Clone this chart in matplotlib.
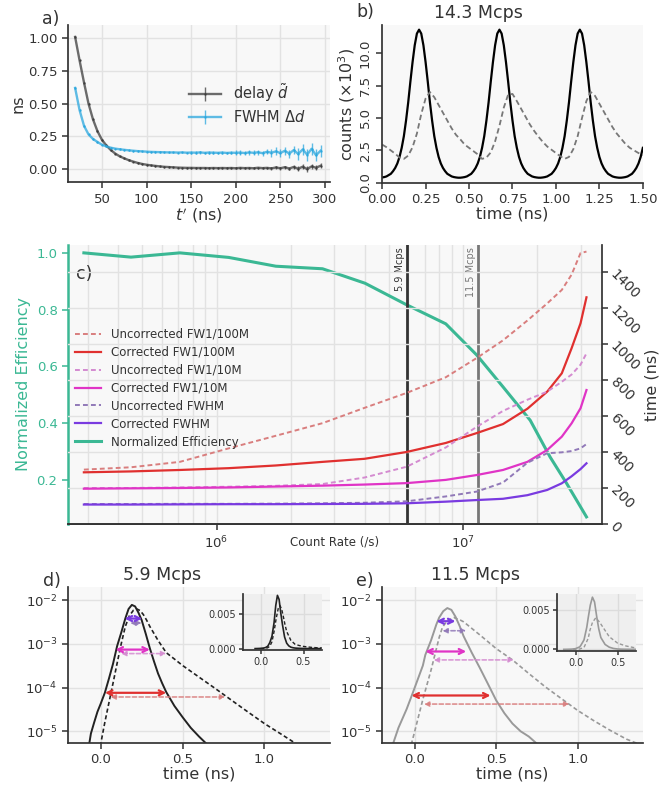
import numpy as np
import matplotlib
matplotlib.use("Agg")
import matplotlib.pyplot as plt
from matplotlib.ticker import NullLocator, FormatStrFormatter

# ---------------- data ----------------
# a) delay and FWHM vs t'
t_prime = list(range(20, 300, 5))
delay = [1.01, 0.83, 0.66, 0.50, 0.38, 0.29, 0.224, 0.18, 0.145, 0.118,
         0.097, 0.082, 0.068, 0.057, 0.047, 0.039, 0.033, 0.028, 0.024, 0.020,
         0.017, 0.015, 0.013, 0.011, 0.010, 0.009, 0.009, 0.008, 0.008, 0.008,
         0.007, 0.008, 0.007, 0.008, 0.007, 0.008, 0.006, 0.009, 0.007, 0.008,
         0.006, 0.010, 0.007, 0.009, 0.005, 0.012, 0.006, 0.014, 0.004, 0.016,
         0.002, 0.018, 0.000, 0.020, 0.010, 0.025]
delay_err = [0.006] * 36 + [0.008] * 8 + [0.012] * 6 + [0.02] * 6
fwhm = [0.62, 0.45, 0.33, 0.265, 0.23, 0.207, 0.186, 0.173, 0.163, 0.156,
        0.151, 0.147, 0.143, 0.140, 0.137, 0.135, 0.133, 0.131, 0.130, 0.129,
        0.128, 0.127, 0.127, 0.126, 0.127, 0.125, 0.126, 0.125, 0.127, 0.124,
        0.126, 0.125, 0.124, 0.126, 0.123, 0.125, 0.124, 0.126, 0.122, 0.127,
        0.124, 0.128, 0.121, 0.132, 0.125, 0.135, 0.122, 0.140, 0.118, 0.145,
        0.115, 0.150, 0.110, 0.155, 0.105, 0.140]
fwhm_err = [0.006] * 26 + [0.01] * 10 + [0.018] * 8 + [0.03] * 6 + [0.045] * 6

# b) histogram at 14.3 Mcps (corrected on a 12.5 ps grid, raw on 25 ps)
time_fine = np.round(np.arange(0, 1.5001, 0.0125), 4)
counts_corr = [0.42, 0.45, 0.5, 0.6, 0.7, 0.9, 1.15, 1.5, 2.0, 2.7,
               3.6, 4.8, 6.2, 7.8, 9.3, 10.6, 11.5, 11.8, 11.5, 10.6,
               9.3, 7.8, 6.2, 4.8, 3.6, 2.7, 2.0, 1.5, 1.15, 0.9,
               0.7, 0.6, 0.5, 0.45, 0.42, 0.4, 0.4, 0.42, 0.45, 0.5,
               0.6, 0.7, 0.9, 1.15, 1.5, 2.0, 2.7, 3.6, 4.8, 6.2,
               7.8, 9.3, 10.6, 11.5, 11.8, 11.5, 10.6, 9.3, 7.8, 6.2,
               4.8, 3.6, 2.7, 2.0, 1.5, 1.15, 0.9, 0.7, 0.6, 0.5,
               0.45, 0.42, 0.4, 0.4, 0.42, 0.45, 0.5, 0.6, 0.7, 0.9,
               1.15, 1.5, 2.0, 2.7, 3.6, 4.8, 6.2, 7.8, 9.3, 10.6,
               11.5, 11.8, 11.5, 10.6, 9.3, 7.8, 6.2, 4.8, 3.6, 2.7,
               2.0, 1.5, 1.15, 0.9, 0.7, 0.6, 0.5, 0.45, 0.42, 0.4,
               0.4, 0.42, 0.45, 0.5, 0.6, 0.7, 0.9, 1.15, 1.5, 2.0, 2.7]
time_coarse = np.round(np.arange(0, 1.5001, 0.025), 3)
counts_raw = [2.95, 2.75, 2.5, 2.25, 1.95, 1.85, 2.1, 2.75, 3.8, 5.3,
              6.5, 7.0, 6.6, 6.0, 5.4, 4.8, 4.2, 3.7, 3.35, 2.95,
              2.7, 2.45, 2.2, 1.85, 1.95, 2.35, 3.2, 4.4, 5.8, 6.8,
              6.85, 6.3, 5.7, 5.1, 4.5, 4.0, 3.55, 3.15, 2.8, 2.55,
              2.3, 2.05, 1.85, 2.0, 2.6, 3.6, 5.0, 6.3, 7.0, 6.7,
              6.1, 5.5, 4.9, 4.3, 3.8, 3.4, 3.0, 2.7, 2.5, 2.3, 2.15]

# c) widths and efficiency vs count rate
rate = [2.9e5, 4.5e5, 7.1e5, 1.12e6, 1.74e6, 2.69e6, 3.98e6, 5.9e6, 8.5e6,
        1.135e7, 1.45e7, 1.82e7, 2.19e7, 2.51e7, 2.75e7, 2.99e7, 3.16e7]
unc_100m = [302, 315, 345, 420, 490, 560, 645, 728, 815, 922, 1020, 1130,
            1225, 1300, 1385, 1505, 1513]
cor_100m = [287, 292, 300, 310, 325, 345, 362, 400, 450, 505, 555, 640,
            735, 837, 976, 1115, 1259]
unc_10m = [200, 200, 203, 207, 212, 222, 258, 318, 425, 540, 628, 690,
           735, 790, 830, 885, 948]
cor_10m = [196, 198, 200, 203, 208, 213, 219, 227, 245, 272, 300, 345,
           411, 485, 559, 643, 744]
unc_fwhm = [111, 111, 112, 112, 113, 115, 118, 126, 153, 180, 230, 340,
            393, 398, 405, 420, 444]
cor_fwhm = [108, 108, 109, 110, 110, 111, 112, 115, 124, 133, 140, 160,
            189, 226, 265, 305, 337]
rate_eff = [2.9e5, 4.5e5, 7.1e5, 1.12e6, 1.74e6, 2.69e6, 4.0e6, 5.9e6, 8.5e6,
            1.135e7, 1.45e7, 1.87e7, 2.25e7, 2.63e7, 3.16e7]
efficiency = [1.0, 0.985, 1.0, 0.984, 0.953, 0.944, 0.893, 0.817, 0.75,
              0.64, 0.528, 0.41, 0.281, 0.187, 0.07]
marked_rates = [5.9e6, 1.15e7]
marked_labels = ["5.9 Mcps", "11.5 Mcps"]

# d) 5.9 Mcps histograms
td_cor = [-0.075, -0.06, -0.04, -0.02, 0.0, 0.025, 0.05, 0.075, 0.1, 0.125,
          0.15, 0.17, 0.19, 0.21, 0.23, 0.25, 0.275, 0.3, 0.325, 0.35,
          0.375, 0.4, 0.45, 0.5, 0.55, 0.6, 0.65, 0.7]
pd_cor = [4.0e-6, 8.9e-6, 1.6e-5, 2.8e-5, 4.3e-5, 7.6e-5, 1.6e-4, 3.5e-4,
          8.9e-4, 1.8e-3, 3.8e-3, 6.3e-3, 7.8e-3, 7.2e-3, 5.2e-3, 3.5e-3,
          1.7e-3, 7.9e-4, 4.0e-4, 2.1e-4, 1.26e-4, 7.9e-5, 3.8e-5, 2.1e-5,
          1.2e-5, 7.6e-6, 5.0e-6, 3.2e-6]
td_raw = [-0.01, 0.0, 0.025, 0.05, 0.075, 0.1, 0.125, 0.15, 0.175, 0.2,
          0.22, 0.24, 0.26, 0.28, 0.3, 0.35, 0.4, 0.45, 0.5, 0.6,
          0.7, 0.8, 0.9, 1.0, 1.1, 1.2, 1.25]
pd_raw = [3.2e-6, 5.2e-6, 1.6e-5, 4.5e-5, 1.26e-4, 3.6e-4, 1.0e-3, 2.5e-3,
          4.4e-3, 5.9e-3, 6.3e-3, 5.8e-3, 4.7e-3, 3.5e-3, 2.5e-3, 1.2e-3,
          6.3e-4, 4.5e-4, 3.2e-4, 1.74e-4, 9.5e-5, 5.1e-5, 2.75e-5, 1.5e-5,
          8.7e-6, 5.0e-6, 3.8e-6]

# e) 11.5 Mcps histograms
te_cor = [-0.14, -0.133, -0.1, -0.05, -0.02, 0.0, 0.05, 0.065, 0.1, 0.133,
          0.15, 0.175, 0.2, 0.225, 0.25, 0.275, 0.3, 0.35, 0.4, 0.45,
          0.5, 0.55, 0.6, 0.65, 0.7, 0.75, 0.8]
pe_cor = [4.0e-6, 5.2e-6, 1.2e-5, 3.2e-5, 6.3e-5, 1.0e-4, 3.2e-4, 5.6e-4,
          1.2e-3, 2.8e-3, 4.0e-3, 5.6e-3, 6.6e-3, 6.0e-3, 4.2e-3, 2.6e-3,
          1.5e-3, 6.3e-4, 2.8e-4, 1.2e-4, 5.1e-5, 2.6e-5, 1.5e-5, 1.0e-5,
          7.6e-6, 5.2e-6, 3.8e-6]
te_raw = [-0.03, -0.02, 0.0, 0.05, 0.1, 0.15, 0.17, 0.2, 0.24, 0.28,
          0.3, 0.4, 0.5, 0.6, 0.7, 0.8, 0.9, 1.0, 1.1, 1.2, 1.3, 1.4]
pe_raw = [3.5e-6, 5.2e-6, 1.0e-5, 5.4e-5, 2.5e-4, 1.4e-3, 2.4e-3, 3.4e-3,
          4.0e-3, 3.5e-3, 3.2e-3, 1.6e-3, 7.8e-4, 4.3e-4, 2.1e-4, 1.05e-4,
          5.6e-5, 3.0e-5, 1.74e-5, 1.05e-5, 6.6e-6, 4.7e-6]

# width arrows: (level, left, right) for FWHM, FW1/10M, FW1/100M
arrows_d_cor = [(3.8e-3, 0.146, 0.253), (7.4e-4, 0.09, 0.30), (7.6e-5, 0.026, 0.40)]
arrows_d_raw = [(3.0e-3, 0.18, 0.25), (6.0e-4, 0.125, 0.40), (6.1e-5, 0.06, 0.76)]
arrows_e_cor = [(3.3e-3, 0.133, 0.25), (6.7e-4, 0.065, 0.316), (6.6e-5, -0.02, 0.465)]
arrows_e_raw = [(2.0e-3, 0.17, 0.316), (4.3e-4, 0.116, 0.608), (4.2e-5, 0.057, 0.949)]

# ---------------- style ----------------
DARK = "#333333"
GREEN = "#3bb894"
COR = ["#7a3be0", "#e034c6", "#e0302f"]
UNC = ["#9179b8", "#d48bd0", "#d97e7e"]

plt.rcParams.update({
    "font.family": "DejaVu Sans",
    "axes.facecolor": "#f8f8f8",
    "axes.edgecolor": DARK,
    "axes.linewidth": 1.25,
    "axes.spines.top": False,
    "axes.spines.right": False,
    "axes.axisbelow": True,
    "grid.color": "#e2e2e2",
    "grid.linewidth": 1.0,
    "text.color": DARK,
    "axes.labelcolor": DARK,
    "xtick.color": DARK,
    "ytick.color": DARK,
    "xtick.labelsize": 9.5,
    "ytick.labelsize": 9.5,
    "xtick.major.size": 4,
    "ytick.major.size": 4,
    "xtick.major.width": 1.1,
    "ytick.major.width": 1.1,
    "axes.labelsize": 11.5,
})

fig = plt.figure(figsize=(6.6, 7.85), dpi=100)

ax_a = fig.add_axes([0.103, 0.768, 0.397, 0.200])
ax_b = fig.add_axes([0.579, 0.767, 0.395, 0.201])
ax_c = fig.add_axes([0.103, 0.3325, 0.809, 0.3555])
ax_d = fig.add_axes([0.103, 0.0535, 0.397, 0.1987])
ax_e = fig.add_axes([0.579, 0.0535, 0.395, 0.1987])

# ---------------- a) ----------------
ax_a.errorbar(t_prime, delay, yerr=delay_err, color="#3c3c3c", lw=1.7,
              marker=".", ms=1.5, elinewidth=1, alpha=0.75, label=r"delay $\tilde{d}$")
ax_a.errorbar(t_prime, fwhm, yerr=fwhm_err, color="#2aa7de", lw=1.7,
              marker=".", ms=1.5, elinewidth=1, alpha=0.75, label=r"FWHM $\Delta d$")
ax_a.set_xlim(12, 305.6)
ax_a.set_ylim(-0.1, 1.1)
ax_a.set_xticks([50, 100, 150, 200, 250, 300])
ax_a.set_yticks([0, 0.25, 0.5, 0.75, 1.0])
ax_a.yaxis.set_major_formatter(FormatStrFormatter("%.2f"))
ax_a.grid(True)
ax_a.set_xlabel(r"$t'$ (ns)", labelpad=0)
ax_a.set_ylabel("ns", labelpad=2)
ax_a.legend(loc="upper left", bbox_to_anchor=(0.44, 0.68), frameon=False,
            fontsize=10.5, handlelength=2.2, labelspacing=0.35, borderaxespad=0)
fig.text(51 / 660, 1 - 19 / 785, "a)", fontsize=12.5, ha="center", va="center")

# ---------------- b) ----------------
ax_b.plot(time_fine, counts_corr, color="black", lw=1.6)
ax_b.plot(time_coarse, counts_raw, color="#777777", lw=1.3, ls=(0, (3, 1.8)))
ax_b.set_xlim(0, 1.5)
ax_b.set_ylim(0, 12.15)
ax_b.set_xticks([0, 0.25, 0.5, 0.75, 1.0, 1.25, 1.5])
ax_b.xaxis.set_major_formatter(FormatStrFormatter("%.2f"))
ax_b.set_yticks([0, 2.5, 5.0, 7.5, 10.0])
ax_b.yaxis.set_major_formatter(FormatStrFormatter("%.1f"))
for lab in ax_b.get_yticklabels():
    lab.set_rotation(90)
    lab.set_va("center")
ax_b.set_xlabel("time (ns)", labelpad=0)
ax_b.set_ylabel(r"counts ($\times 10^3$)", labelpad=1)
ax_b.text(0.368, 1.02, "14.3 Mcps", transform=ax_b.transAxes, ha="center",
          va="bottom", fontsize=12.5)
fig.text(365 / 660, 1 - 12 / 785, "b)", fontsize=12.5, ha="center", va="center")

# ---------------- c) ----------------
ax_t = ax_c.twinx()
ax_c.plot(rate_eff, efficiency, color=GREEN, lw=2.2, label="Normalized Efficiency")
ax_c.set_xscale("log")
ax_c.set_xlim(2.5e5, 3.65e7)
ax_c.set_ylim(0.045, 1.028)
ax_c.set_yticks([0.2, 0.4, 0.6, 0.8, 1.0])
ax_c.tick_params(axis="y", colors=GREEN)
ax_c.spines["left"].set_color(GREEN)
ax_c.spines["left"].set_linewidth(1.8)
ax_c.tick_params(axis="x", which="minor", length=0)
ax_c.grid(True, which="both", axis="x")
ax_c.set_ylabel("Normalized Efficiency", color=GREEN, labelpad=4)
ax_c.set_xlabel("Count Rate (/s)", fontsize=8.5)
ax_c.xaxis.set_label_coords(0.5, -0.043)

series = [(unc_100m, UNC[2], "--", "Uncorrected FW1/100M"),
          (cor_100m, COR[2], "-", "Corrected FW1/100M"),
          (unc_10m, UNC[1], "--", "Uncorrected FW1/10M"),
          (cor_10m, COR[1], "-", "Corrected FW1/10M"),
          (unc_fwhm, UNC[0], "--", "Uncorrected FWHM"),
          (cor_fwhm, COR[0], "-", "Corrected FWHM")]
handles = []
for vals, col, ls, lab in series:
    dash = (0, (2.5, 1.6)) if ls == "--" else "-"
    h, = ax_t.plot(rate, vals, color=col, ls=dash, lw=1.6 if ls == "-" else 1.4, label=lab)
    handles.append(h)
handles.append(ax_c.get_lines()[0])

for r, lab, col in zip(marked_rates, marked_labels, ["#333333", "#777777"]):
    ax_c.axvline(r, color=col, lw=2)
    ax_c.annotate(lab, xy=(r, 1), xycoords=("data", "axes fraction"),
                  xytext=(-1.5, -1.5), textcoords="offset points", rotation=90,
                  ha="right", va="top", fontsize=7, color=col)

ax_t.set_ylim(0, 1550)
ax_t.set_yticks(range(0, 1401, 200))
ax_t.tick_params(axis="y", labelsize=10)
ax_t.spines["right"].set_visible(True)
ax_t.spines["left"].set_visible(False)
ax_t.grid(True, axis="y")
for lab in ax_t.get_yticklabels():
    lab.set_rotation(-45)
    lab.set_rotation_mode("anchor")
    lab.set_ha("left")
    lab.set_va("center")
ax_t.set_ylabel("time (ns)", labelpad=2)
ax_t.legend(handles=handles, loc="upper left", bbox_to_anchor=(0.005, 0.72),
            frameon=False, fontsize=8.5, handlelength=2.2, labelspacing=0.42,
            borderaxespad=0)
ax_c.text(0.03, 0.896, "c)", transform=ax_c.transAxes, fontsize=12.5,
          ha="center", va="center")


# ---------------- d) and e) ----------------
def width_arrows(ax, arrows, colors, dashed):
    for (lvl, x0, x1), col in zip(arrows, colors):
        if dashed:
            props = dict(arrowstyle="<|-|>", color=col, lw=1.2, ls=(0, (2.5, 1.5)),
                         alpha=0.85, shrinkA=0, shrinkB=0, mutation_scale=7)
        else:
            props = dict(arrowstyle="<->", color=col, lw=1.6, shrinkA=0,
                         shrinkB=0, mutation_scale=9)
        ax.annotate("", xy=(x1, lvl), xytext=(x0, lvl), arrowprops=props)


panels = [(ax_d, td_cor, pd_cor, td_raw, pd_raw, arrows_d_cor, arrows_d_raw,
           "#222222", "5.9 Mcps", "d)", 52, [0.368, 0.172, 0.120, 0.0713], 0.008),
          (ax_e, te_cor, pe_cor, te_raw, pe_raw, arrows_e_cor, arrows_e_raw,
           "#999999", "11.5 Mcps", "e)", 365, [0.844, 0.1707, 0.120, 0.0726], 0.007)]

for (ax, tc, pc, tr, pr, ac, ar, col, title, tag, tag_x, inset_pos, top) in panels:
    ax.plot(tc, pc, color=col, lw=1.4)
    ax.plot(tr, pr, color=col, lw=1.2, ls=(0, (2.5, 1.6)))
    width_arrows(ax, ar, UNC, True)
    width_arrows(ax, ac, COR, False)
    ax.set_yscale("log")
    ax.set_ylim(5.4e-6, 2.0e-2)
    ax.set_xlim(-0.2, 1.4)
    ax.set_xticks([0.0, 0.5, 1.0])
    ax.set_yticks([1e-5, 1e-4, 1e-3, 1e-2])
    ax.yaxis.set_minor_locator(NullLocator())
    ax.grid(True)
    ax.set_xlabel("time (ns)", labelpad=0)
    ax.text(0.36, 1.02, title, transform=ax.transAxes, ha="center",
            va="bottom", fontsize=12.5)
    fig.text(tag_x / 660, 1 - 581 / 785, tag, fontsize=12.5, ha="center", va="center")

    ins = fig.add_axes(inset_pos, facecolor="#efefef")
    ins.plot(tc, pc, color=col, lw=1.2)
    ins.plot(tr, pr, color=col, lw=1.0, ls=(0, (2.5, 1.6)))
    ins.set_xlim(-0.22, 0.72)
    ins.set_ylim(-0.0002, top)
    ins.set_xticks([0.0, 0.5])
    ins.set_yticks([0.0, 0.005])
    ins.yaxis.set_major_formatter(FormatStrFormatter("%.3f"))
    ins.tick_params(labelsize=7, length=3, pad=2)
    ins.grid(True, color="#dcdcdc")

fig.savefig("out.png", dpi=100)
